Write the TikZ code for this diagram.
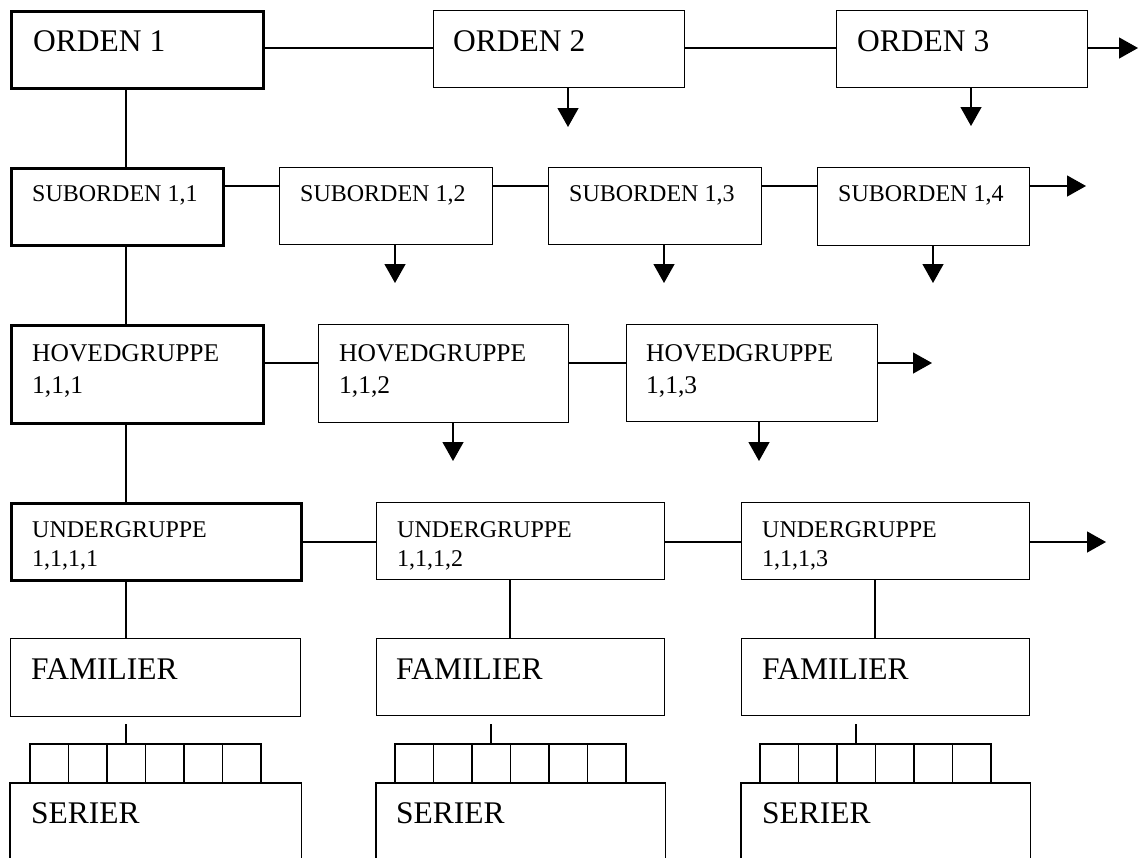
\documentclass[tikz,border=0pt]{standalone}
\usepackage{fontspec}
\setmainfont{Liberation Serif}
\usetikzlibrary{arrows.meta}
\tikzset{
  box/.style={draw, line width=1.3pt, inner sep=0pt, anchor=north west},
  thickbox/.style={box, line width=2.8pt},
  conn/.style={line width=1.3pt},
  arr/.style={conn, -{Triangle[length=19pt,width=21pt]}},
  lab/.style={inner sep=0pt, anchor=base west},
  big/.style={lab, font=\fontsize{31.5}{34}\selectfont},
  sub/.style={lab, font=\fontsize{24}{27}\selectfont},
  hov/.style={lab, font=\fontsize{25.5}{28}\selectfont},
  und/.style={lab, font=\fontsize{24}{27}\selectfont},
}
\begin{document}
\begin{tikzpicture}[x=1pt,y=-1pt]
\useasboundingbox (0,0) rectangle (1139,857);
% ---- ORDEN row
\node[thickbox, minimum width=252, minimum height=77] (O1) at (10,10) {};
\node[box, minimum width=251, minimum height=77] (O2) at (433,10) {};
\node[box, minimum width=251, minimum height=77] (O3) at (836,10) {};
\node[big] (tO1) at (33,51) {ORDEN 1};
\node[big] (tO2) at (453,51) {ORDEN 2};
\node[big] (tO3) at (857,51) {ORDEN 3};
% ---- SUBORDEN row
\node[thickbox, minimum width=212, minimum height=77] (S11) at (10,167) {};
\node[box, minimum width=213, minimum height=77] (S12) at (279,167) {};
\node[box, minimum width=212.5, minimum height=77] (S13) at (548,167) {};
\node[box, minimum width=212, minimum height=78] (S14) at (817,167) {};
\node[sub] (tS11) at (32,201) {SUBORDEN 1,1};
\node[sub] (tS12) at (300,201) {SUBORDEN 1,2};
\node[sub] (tS13) at (569,201) {SUBORDEN 1,3};
\node[sub] (tS14) at (838,201) {SUBORDEN 1,4};
% ---- HOVEDGRUPPE row
\node[thickbox, minimum width=252, minimum height=98] (H1) at (10,324) {};
\node[box, minimum width=250, minimum height=98] (H2) at (318,324) {};
\node[box, minimum width=251, minimum height=97] (H3) at (626,324) {};
\node[hov] (tH1a) at (32,361) {HOVEDGRUPPE};
\node[hov] (tH1b) at (32,393) {1,1,1};
\node[hov] (tH2a) at (339,361) {HOVEDGRUPPE};
\node[hov] (tH2b) at (339,393) {1,1,2};
\node[hov] (tH3a) at (646,361) {HOVEDGRUPPE};
\node[hov] (tH3b) at (646,393) {1,1,3};
% ---- UNDERGRUPPE row
\node[thickbox, minimum width=290, minimum height=77] (U1) at (10,502) {};
\node[box, minimum width=288, minimum height=77] (U2) at (376,502) {};
\node[box, minimum width=288, minimum height=77] (U3) at (741,502) {};
\node[und] (tU1a) at (32,537) {UNDERGRUPPE};
\node[und] (tU1b) at (32,566) {1,1,1,1};
\node[und] (tU2a) at (397,537) {UNDERGRUPPE};
\node[und] (tU2b) at (397,566) {1,1,1,2};
\node[und] (tU3a) at (762,537) {UNDERGRUPPE};
\node[und] (tU3b) at (762,566) {1,1,1,3};
% ---- FAMILIER row
\node[box, minimum width=290, minimum height=78] (F1) at (10,638) {};
\node[box, minimum width=288, minimum height=77] (F2) at (376,638) {};
\node[box, minimum width=288, minimum height=77] (F3) at (741,638) {};
\node[big] (tF1) at (31,679) {FAMILIER};
\node[big] (tF2) at (396,679) {FAMILIER};
\node[big] (tF3) at (762,679) {FAMILIER};
% ---- SERIER row (open at the bottom)
\node[box, draw=none, minimum width=290, minimum height=76] (R1) at (10,783) {};
\node[box, draw=none, minimum width=288, minimum height=76] (R2) at (376,783) {};
\node[box, draw=none, minimum width=288, minimum height=76] (R3) at (741,783) {};
\foreach \r in {R1,R2,R3}
  \draw[conn] (\r.south west) -- (\r.north west) -- (\r.north east) -- (\r.south east);
\node[big] (tR1) at (31,823) {SERIER};
\node[big] (tR2) at (396,823) {SERIER};
\node[big] (tR3) at (762,823) {SERIER};
% ---- combs between FAMILIER and SERIER
\foreach \s/\c/\r in {126/30/R1, 491/395/R2, 856/760/R3}{
  \draw[conn] (\s,724) -- (\s,744);
  \draw[conn] (\c,0 |- \r.north) -- (\c,744) -- (\c+231,744) -- (\c+231,0 |- \r.north);
  \foreach \k in {1,...,5}
    \draw[conn] (\c+\k*38.5,744) -- (\c+\k*38.5,0 |- \r.north);
}
% ---- horizontal connectors
\draw[conn] (O1.east |- 0,48) -- (O2.west |- 0,48);
\draw[conn] (O2.east |- 0,48) -- (O3.west |- 0,48);
\draw[arr] (O3.east |- 0,48) -- (1138,48);
\draw[conn] (S11.east |- 0,186) -- (S12.west |- 0,186);
\draw[conn] (S12.east |- 0,186) -- (S13.west |- 0,186);
\draw[conn] (S13.east |- 0,186) -- (S14.west |- 0,186);
\draw[arr] (S14.east |- 0,186) -- (1086,186);
\draw[conn] (H1.east |- 0,363) -- (H2.west |- 0,363);
\draw[conn] (H2.east |- 0,363) -- (H3.west |- 0,363);
\draw[arr] (H3.east |- 0,363) -- (932,363);
\draw[conn] (U1.east |- 0,542) -- (U2.west |- 0,542);
\draw[conn] (U2.east |- 0,542) -- (U3.west |- 0,542);
\draw[arr] (U3.east |- 0,542) -- (1106,542);
% ---- vertical connectors
\draw[conn] (O1.south -| 126,0) -- (S11.north -| 126,0);
\draw[conn] (S11.south -| 126,0) -- (H1.north -| 126,0);
\draw[conn] (H1.south -| 126,0) -- (U1.north -| 126,0);
\draw[conn] (U1.south -| 126,0) -- (F1.north -| 126,0);
\draw[conn] (U2.south -| 510,0) -- (F2.north -| 510,0);
\draw[conn] (U3.south -| 875,0) -- (F3.north -| 875,0);
% ---- down arrows
\draw[arr] (O2.south -| 568,0) -- (568,127);
\draw[arr] (O3.south -| 971,0) -- (971,126);
\draw[arr] (S12.south -| 395,0) -- (395,283);
\draw[arr] (S13.south -| 664,0) -- (664,283);
\draw[arr] (S14.south -| 933,0) -- (933,283);
\draw[arr] (H2.south -| 453,0) -- (453,461);
\draw[arr] (H3.south -| 759,0) -- (759,461);
\end{tikzpicture}
\end{document}
